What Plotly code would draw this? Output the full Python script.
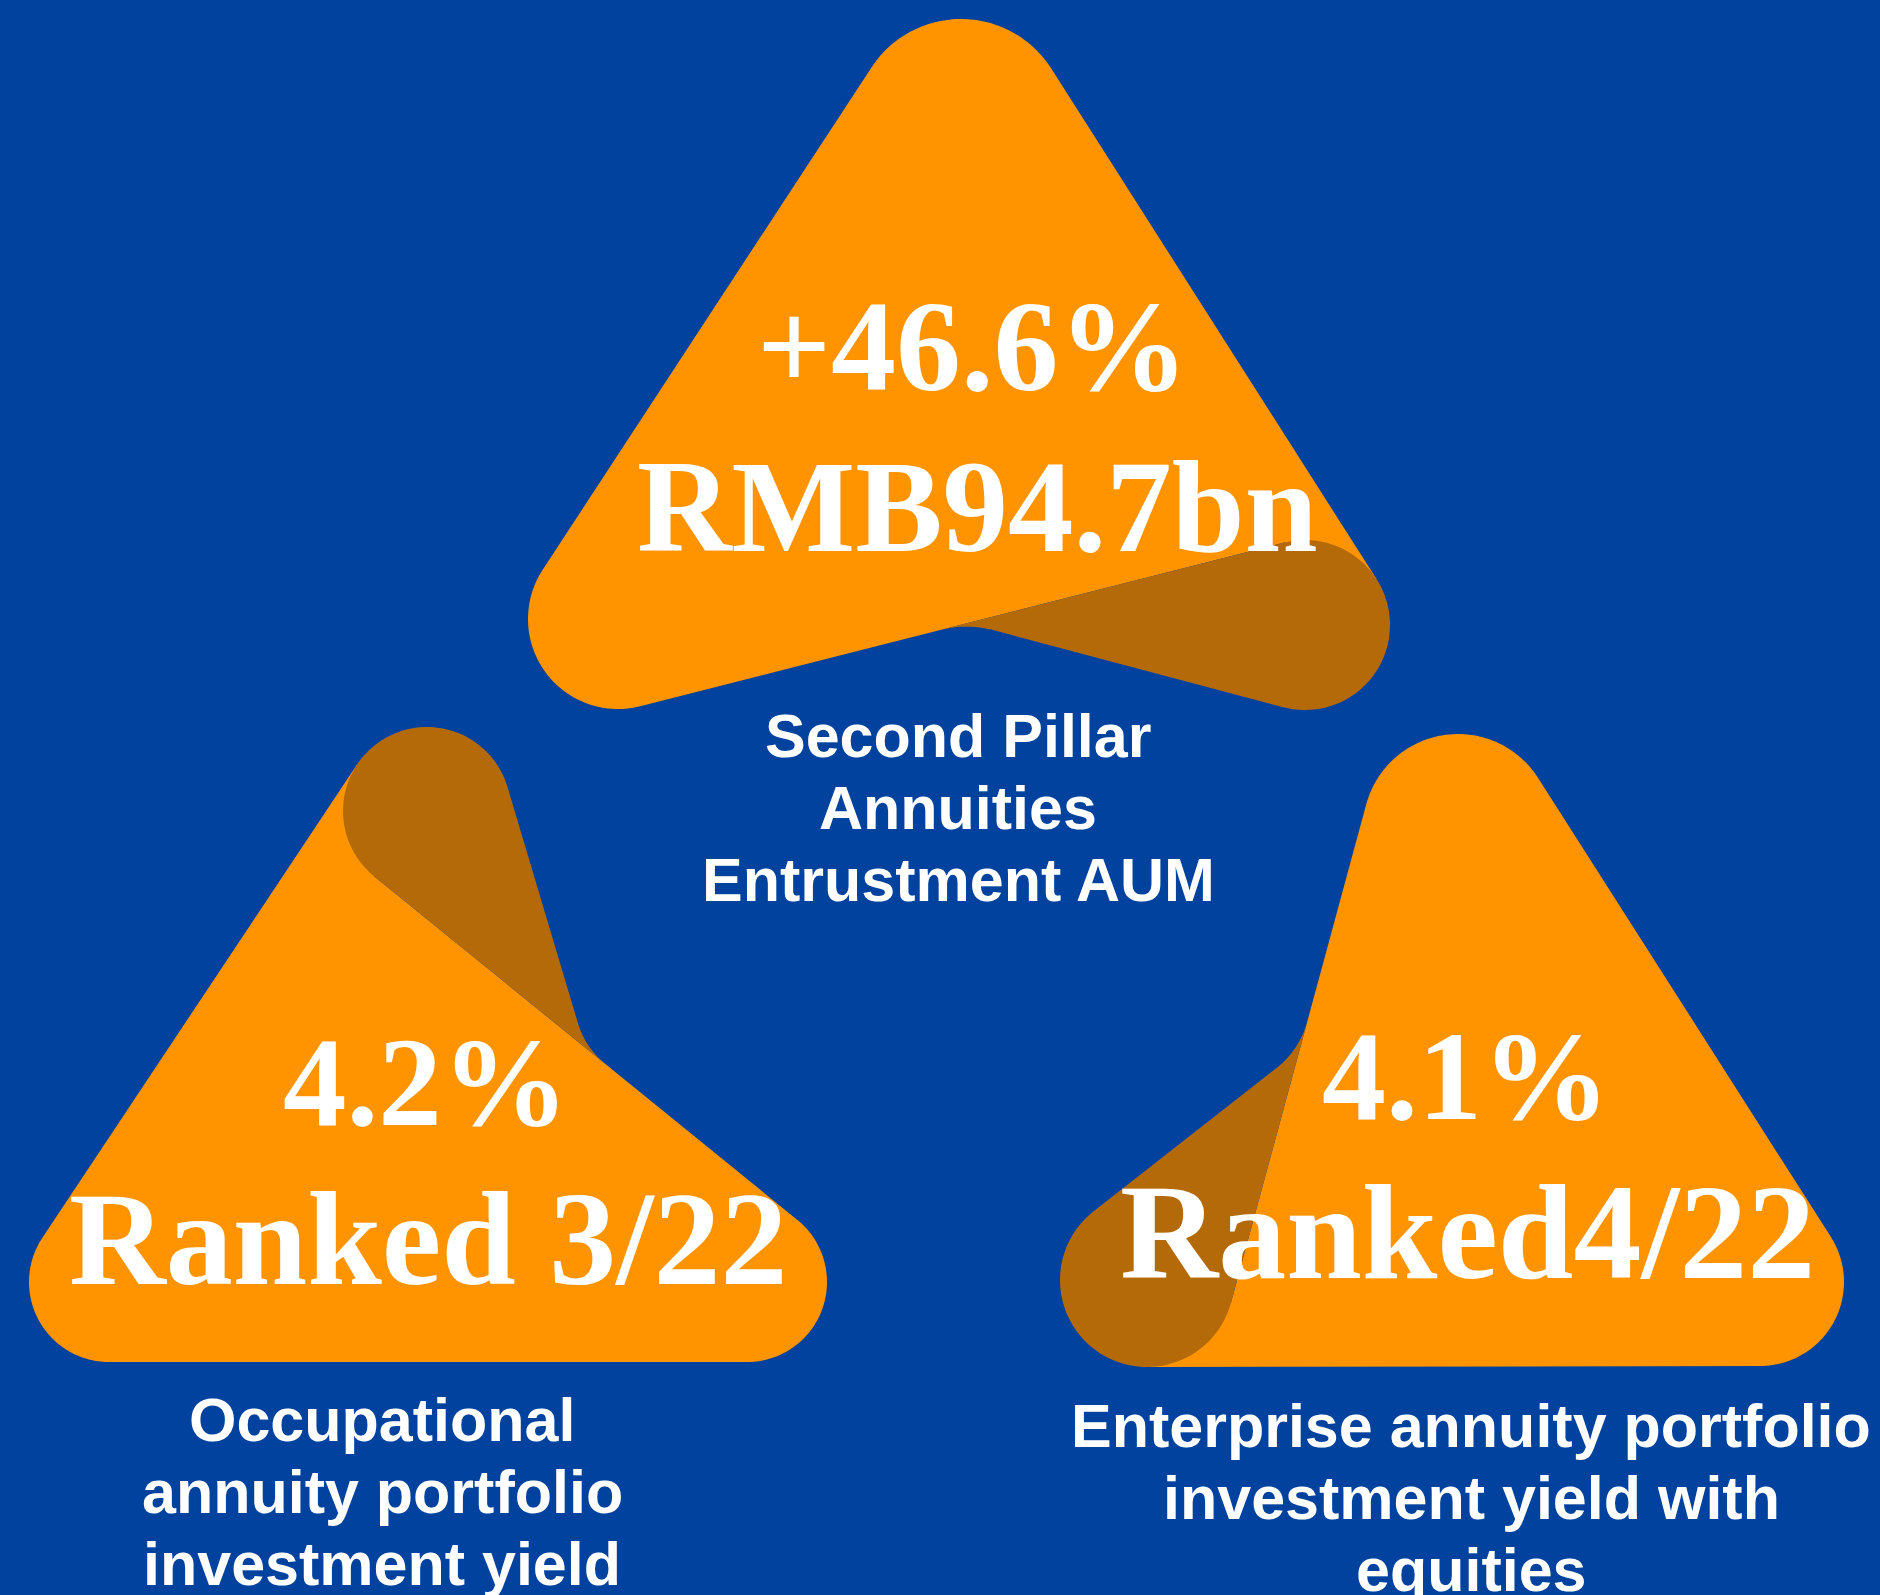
import numpy as np
import plotly.graph_objects as go

# ---------------- data (text content) ----------------
metric_values = ["+46.6%", "4.2%", "4.1%"]
headline_values = ["RMB94.7bn", "Ranked 3/22", "Ranked4/22"]
label_lines = [
    ["Second Pillar", "Annuities", "Entrustment AUM"],
    ["Occupational", "annuity portfolio", "investment yield"],
    ["Enterprise annuity portfolio", "investment yield with", "equities"],
]

# ---------------- layout / style ----------------
W, H = 1880, 1595
BLUE = "#00429E"
ORANGE = "#FF9400"
DARK = "#B46A08"

metric_pos = [(973, 390), (426, 1125), (1466, 1119)]     # centre x, baseline y
headline_pos = [(977, 551), (428, 1284), (1467, 1278)]
metric_size = [130, 127, 128]
headline_size = [131, 134, 136]
label_pos = [(958, 757), (382, 1441), (1471, 1447)]      # centre x, first baseline
label_step = 72
label_size = 61

# rounded-triangle geometry: corner circles (cx, cy, r), clockwise on screen
shape_corners = [
    [(961, 126, 107), (1305, 625, 85), (618, 619, 90)],
    [(427, 811, 84), (747, 1282, 80), (109, 1282, 80)],
    [(1458, 829, 95), (1760, 1282, 84), (1147, 1280, 87)],
]
# tangent sides for each edge (start, end): -1 = circle lies outside (fold line)
shape_sides = [
    [(1, 1), (-1, 1), (1, 1)],
    [(-1, 1), (1, 1), (1, 1)],
    [(1, 1), (1, 1), (-1, 1)],
]
# which corner is the folded lobe, which edge is the fold line, distance to flap tip
flap_lobe = [1, 0, 2]
fold_edge = [1, 0, 2]
flap_len = [327, 272, 262]
flap_fillet = [28, 26, 30]


def tangent(c1, r1, s1, c2, r2, s2):
    c1 = np.array(c1, float)
    c2 = np.array(c2, float)
    D = c2 - c1
    L = np.hypot(*D)
    u = D / L
    v = np.array([u[1], -u[0]])
    a = (s1 * r1 - s2 * r2) / L
    b = np.sqrt(max(0.0, 1 - a * a))
    n = a * u + b * v
    return c1 + s1 * r1 * n, c2 + s2 * r2 * n


def arc_pts(c, t0, t1, n=60, increasing=True):
    c = np.array(c[:2], float)
    a0 = np.arctan2(*(t0 - c)[::-1])
    a1 = np.arctan2(*(t1 - c)[::-1])
    r = np.hypot(*(t0 - c))
    if increasing:
        while a1 < a0:
            a1 += 2 * np.pi
    else:
        while a1 > a0:
            a1 -= 2 * np.pi
    ang = np.linspace(a0, a1, n)
    return [c + r * np.array([np.cos(t), np.sin(t)]) for t in ang]


def rounded_outline(corners, sides):
    n = len(corners)
    tans = []
    for i in range(n):
        c1, c2 = corners[i], corners[(i + 1) % n]
        s1, s2 = sides[i]
        tans.append(tangent(c1[:2], c1[2], s1, c2[:2], c2[2], s2))
    pts = []
    for i in range(n):
        t_in = tans[i - 1][1]
        t_out = tans[i][0]
        if sides[i - 1][1] == 1 and sides[i][0] == 1:
            pts += arc_pts(corners[i], t_in, t_out)
        else:
            pts += [t_in, t_out]
    return pts, tans


def flap_outline(lobe, t_fold, t_other, length, fillet):
    C = np.array(lobe[:2], float)
    r = lobe[2]
    fdir = (t_other - t_fold) / np.hypot(*(t_other - t_fold))
    V = t_fold + fdir * length
    d = C - V
    dist = np.hypot(*d)
    alpha = np.arcsin(min(1.0, r / dist))
    base = np.arctan2(d[1], d[0])
    toward = -fdir
    best = None
    for sgn in (1, -1):
        ang = base + sgn * alpha
        w = np.array([np.cos(ang), np.sin(ang)])
        T = V + w * np.sqrt(max(0.0, dist ** 2 - r ** 2))
        score = np.dot(w, toward)
        if best is None or score < best[0]:
            best = (score, w, T)
    _, w_edge, T_edge = best
    cand = []
    for inc in (True, False):
        a = arc_pts(lobe, T_edge, t_fold, 80, inc)
        mid = a[len(a) // 2]
        cand.append((np.hypot(*(mid - V)), a))
    arc = max(cand, key=lambda z: z[0])[1]
    P1 = V + fillet * w_edge
    P2 = V + fillet * fdir
    pts = list(arc) + [P2]
    for t in np.linspace(0, 1, 20):
        pts.append((1 - t) ** 2 * P2 + 2 * (1 - t) * t * V + t ** 2 * P1)
    pts.append(T_edge)
    return pts


def to_path(pts):
    s = "M {:.2f},{:.2f} ".format(*pts[0])
    s += " ".join("L {:.2f},{:.2f}".format(*p) for p in pts[1:])
    return s + " Z"


shapes = []
for k in range(3):
    pts, tans = rounded_outline(shape_corners[k], shape_sides[k])
    shapes.append(dict(type="path", xref="x", yref="y", path=to_path(pts),
                       fillcolor=ORANGE, line=dict(width=0), layer="below"))
    e = fold_edge[k]
    li = flap_lobe[k]
    if e == li:
        t_fold, t_other = tans[e][0], tans[e][1]
    else:
        t_fold, t_other = tans[e][1], tans[e][0]
    fpts = flap_outline(shape_corners[k][li], t_fold, t_other, flap_len[k], flap_fillet[k])
    shapes.append(dict(type="path", xref="x", yref="y", path=to_path(fpts),
                       fillcolor=DARK, line=dict(width=0), layer="below"))

annotations = []
SERIF_C = 0.3375
SANS_C = 0.3465
for i in range(3):
    x, b = metric_pos[i]
    s = metric_size[i]
    annotations.append(dict(x=x, y=b - SERIF_C * s, xref="x", yref="y", text="<b>%s</b>" % metric_values[i],
                            showarrow=False, xanchor="center", yanchor="middle",
                            font=dict(family="Liberation Serif", size=s, color="white")))
    x, b = headline_pos[i]
    s = headline_size[i]
    annotations.append(dict(x=x, y=b - SERIF_C * s, xref="x", yref="y", text="<b>%s</b>" % headline_values[i],
                            showarrow=False, xanchor="center", yanchor="middle",
                            font=dict(family="Liberation Serif", size=s, color="white")))
    x, b = label_pos[i]
    for j, line in enumerate(label_lines[i]):
        annotations.append(dict(x=x, y=b + j * label_step - SANS_C * label_size, xref="x", yref="y",
                                text="<b>%s</b>" % line, showarrow=False, xanchor="center", yanchor="middle",
                                font=dict(family="Liberation Sans", size=label_size, color="white")))

fig = go.Figure()
fig.add_trace(go.Scatter(x=[0, W], y=[0, H], mode="markers", marker=dict(opacity=0), hoverinfo="skip",
                         showlegend=False))
fig.update_layout(
    width=W, height=H, margin=dict(l=0, r=0, t=0, b=0, pad=0),
    paper_bgcolor=BLUE, plot_bgcolor=BLUE,
    xaxis=dict(range=[0, W], visible=False, fixedrange=True),
    yaxis=dict(range=[H, 0], visible=False, fixedrange=True),
    shapes=shapes, annotations=annotations, showlegend=False,
)
fig.write_html("out.html", config={"displayModeBar": False},
               post_script="document.body.style.margin='0';document.body.style.overflow='hidden';")
